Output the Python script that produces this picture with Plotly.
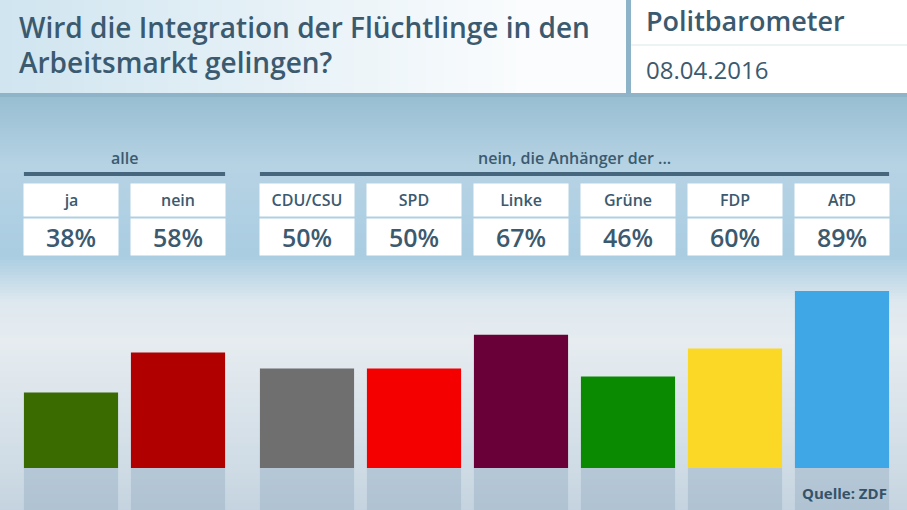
import plotly.graph_objects as go

# ---------------- data ----------------
title_lines = ["Wird die Integration der Flüchtlinge in den", "Arbeitsmarkt gelingen?"]
brand_text = "Politbarometer"
date_text = "08.04.2016"
source_text = "Quelle: ZDF"

group_all = "alle"
cats_all = ["ja", "nein"]
vals_all = [38, 58]
colors_all = ["#3a6b00", "#b00000"]

group_party = "nein, die Anhänger der ..."
cats_party = ["CDU/CSU", "SPD", "Linke", "Grüne", "FDP", "AfD"]
vals_party = [50, 50, 67, 46, 60, 89]
colors_party = ["#6f6f6f", "#f40000", "#6a0038", "#0a8a00", "#fbd726", "#3fa7e6"]

# ---------------- style ----------------
W, H = 907, 510
FONT = "Open Sans"
TXT = "#3b5a6f"
RULE = "#46667d"
REFLECT = 21.1          # depth of the mirrored floor below the baseline (axis units)
Y_TOP = 100

def px(x):
    return x / W

def py(y):
    return 1 - y / H

def lerp(c1, c2, t):
    return tuple(int(round(a + (b - a) * t)) for a, b in zip(c1, c2))

def rgb(c):
    return "rgb(%d,%d,%d)" % c

def f(size, weight=600, color=TXT):
    return dict(family=FONT, size=size, color=color, weight=weight)

shapes = []

# body background: vertical gradient
stops = [(95, (152, 190, 210)), (165, (182, 211, 228)), (255, (170, 205, 226)),
         (300, (222, 232, 239)), (340, (230, 236, 240)), (470, (206, 219, 229)),
         (510, (196, 211, 223))]
step = 3
for y in range(95, 510, step):
    for (ya, ca), (yb, cb) in zip(stops[:-1], stops[1:]):
        if ya <= y <= yb:
            col = lerp(ca, cb, (y - ya) / (yb - ya))
            break
    shapes.append(dict(type="rect", xref="paper", yref="paper", layer="below",
                       x0=0, x1=1, y0=py(min(y + step + 0.5, 510)), y1=py(y),
                       fillcolor=rgb(col), line_width=0))

# header: horizontal gradient
for x in range(0, 630, 6):
    t = min(x / 520, 1)
    col = lerp((208, 229, 240), (250, 252, 253), t)
    shapes.append(dict(type="rect", xref="paper", yref="paper", layer="below",
                       x0=px(x), x1=px(min(x + 6.5, 630)), y0=py(94), y1=1,
                       fillcolor=rgb(col), line_width=0))
shapes.append(dict(type="rect", xref="paper", yref="paper", layer="below",
                   x0=px(630), x1=1, y0=py(94), y1=1, fillcolor="white", line_width=0))
# header bottom border
shapes.append(dict(type="rect", xref="paper", yref="paper", layer="below",
                   x0=0, x1=1, y0=py(97), y1=py(93), fillcolor="#8fb4c9", line_width=0))
# vertical separator
shapes.append(dict(type="rect", xref="paper", yref="paper", layer="below",
                   x0=px(626), x1=px(631), y0=py(94), y1=1, fillcolor="#8cb3c8", line_width=0))
# thin line in right header panel
shapes.append(dict(type="line", xref="paper", yref="paper", layer="below",
                   x0=px(631), x1=1, y0=py(45), y1=py(45), line=dict(color="#dbe5eb", width=1)))

# group rules
shapes.append(dict(type="rect", xref="x", yref="paper", x0=-0.44, x1=len(cats_all) - 0.56,
                   y0=py(176), y1=py(172), fillcolor=RULE, line_width=0))
shapes.append(dict(type="rect", xref="x2", yref="paper", x0=-0.44, x1=len(cats_party) - 0.56,
                   y0=py(176), y1=py(172), fillcolor=RULE, line_width=0))

fig = go.Figure()

def add_group(cats, vals, colors, xa, ya):
    # mirrored floor under each bar
    fig.add_trace(go.Bar(x=cats, y=[-REFLECT for _ in cats], base=0, xaxis=xa, yaxis=ya,
                         marker=dict(color="rgba(150,175,195,0.45)", line_width=0),
                         hoverinfo="skip", showlegend=False))
    fig.add_trace(go.Bar(x=cats, y=vals, xaxis=xa, yaxis=ya,
                         marker=dict(color=colors, line_width=0),
                         hovertemplate="%{x}: %{y}%<extra></extra>", showlegend=False))

add_group(cats_all, vals_all, colors_all, "x", "y")
add_group(cats_party, vals_party, colors_party, "x2", "y2")

annotations = []

def cards(cats, vals, xref):
    for c, v in zip(cats, vals):
        annotations.append(dict(x=c, xref=xref, y=py(200), yref="paper", yanchor="middle",
                                text=c, showarrow=False, bgcolor="white", width=94, height=32,
                                borderpad=0, font=f(16)))
        annotations.append(dict(x=c, xref=xref, y=py(237), yref="paper", yanchor="middle",
                                text="%d%%" % v, showarrow=False, bgcolor="white", width=94, height=36,
                                borderpad=0, font=f(25)))

cards(cats_all, vals_all, "x")
cards(cats_party, vals_party, "x2")

annotations.append(dict(x=0.5, xref="x domain", y=py(158), yref="paper", yanchor="middle",
                        text=group_all, showarrow=False, font=f(16)))
annotations.append(dict(x=0.5, xref="x2 domain", y=py(158), yref="paper", yanchor="middle",
                        text=group_party, showarrow=False, font=f(16)))

# header texts
for i, line in enumerate(title_lines):
    annotations.append(dict(x=px(17), y=py(27 + 35 * i), xref="paper", yref="paper",
                            xanchor="left", yanchor="middle",
                            text=line, showarrow=False, font=f(28)))
annotations.append(dict(x=px(644), y=py(21), xref="paper", yref="paper", xanchor="left", yanchor="middle",
                        text=brand_text, showarrow=False, font=f(27)))
annotations.append(dict(x=px(644), y=py(70), xref="paper", yref="paper", xanchor="left", yanchor="middle",
                        text=date_text, showarrow=False, font=f(24, 400)))
annotations.append(dict(x=px(889), y=py(493), xref="paper", yref="paper", xanchor="right", yanchor="middle",
                        text=source_text, showarrow=False, font=f(15, 700, "#34536a")))

y_dom = [0, py(468 - 199 * (Y_TOP / 100))]
axis_common = dict(showgrid=False, zeroline=False, showticklabels=False, ticks="", showline=False, fixedrange=True)

fig.update_layout(
    width=W, height=H,
    margin=dict(l=0, r=0, t=0, b=0),
    paper_bgcolor="#dfe8ee", plot_bgcolor="rgba(0,0,0,0)",
    barmode="overlay", bargap=0.12,
    xaxis=dict(domain=[px(17.5), px(231.5)], **axis_common),
    xaxis2=dict(domain=[px(253.5), px(895.5)], anchor="y2", **axis_common),
    yaxis=dict(domain=y_dom, range=[-REFLECT, Y_TOP], **axis_common),
    yaxis2=dict(domain=y_dom, range=[-REFLECT, Y_TOP], anchor="x2", **axis_common),
    shapes=shapes, annotations=annotations,
    font=dict(family=FONT),
)

fig.write_html("out.html", config={"displayModeBar": False},
               post_script="document.body.style.margin='0';document.body.style.padding='0';"
                           "document.body.style.overflow='hidden';")
